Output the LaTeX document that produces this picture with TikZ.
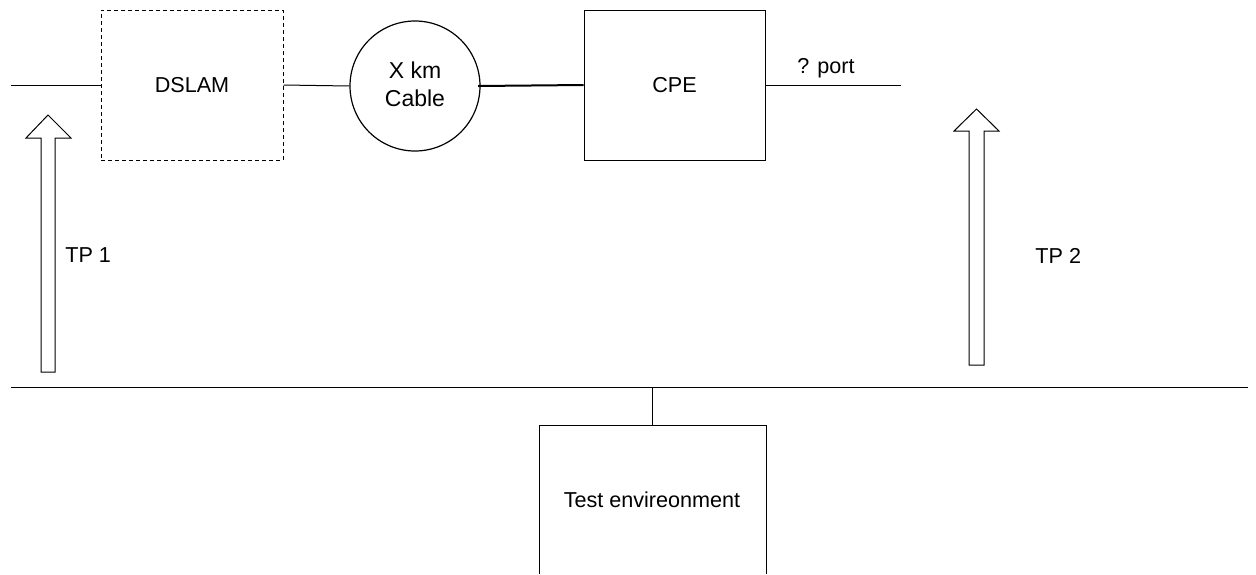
\documentclass[tikz,border=0pt]{standalone}
\usepackage{fontspec}
\setmainfont{Liberation Sans}
\begin{document}
\begin{tikzpicture}[x=0.5pt,y=-0.5pt,
  every node/.style={font=\fontsize{10.8}{14}\selectfont},
  ln/.style={draw, line width=0.5pt},
  blockbox/.style={draw, line width=0.5pt, minimum width=91pt, minimum height=75pt, inner sep=0pt},
  tparrow/.style={draw, line width=0.5pt, fill=white},
  lbl/.style={inner sep=0pt}]
\useasboundingbox (0,0) rectangle (1256,574);
% nodes
\node[blockbox, dashed, dash pattern=on 2pt off 1.5pt] (dslam) at (192,85) {DSLAM};
\node[draw, circle, line width=0.6pt, minimum size=65pt, inner sep=0pt] (circ) at (415,86) {};
\node[lbl, align=center, font=\fontsize{11.5}{14}\selectfont] (circtext) at (415,84) {X km\\Cable};
\node[blockbox, minimum width=90.5pt] (cpe) at (674.5,85) {CPE};
\node[lbl] (port) at (826,68) {? port};
\coordinate (inL) at (11,85);
\coordinate (portEnd) at (901,85);
\coordinate (busL) at (11,387);
\coordinate (busR) at (1248,387);
\coordinate (busT) at (652,387);
% test box (open at bottom)
\coordinate (tbTL) at (539,425);
\coordinate (tbTR) at (766,425);
\coordinate (tbBL) at (539,574);
\coordinate (tbBR) at (766,574);
\coordinate (tbTop) at (652,425);
\draw[ln] (tbBL) -- (tbTL) -- (tbTR) -- (tbBR);
\node[lbl] (test) at (652,500) {Test envireonment};
% connectors
\draw[ln] (inL) -- (dslam.west);
\draw[ln] (dslam.east) -- (circ.west);
\draw[draw, line width=1pt] (478,86) -- (cpe.west);
\draw[ln] (cpe.east) -- (portEnd);
\draw[ln] (busL) -- (busR);
\draw[ln] (busT) -- (tbTop);
% TP arrows
\draw[tparrow] (41,372) -- (41,138) -- (26,138) -- (48,115) -- (71,138) -- (55,138) -- (55,372) -- cycle;
\draw[tparrow] (969,365) -- (969,131) -- (954,131) -- (976.5,109) -- (999,131) -- (984,131) -- (984,365) -- cycle;
\node[lbl, anchor=west] (tp1) at (65,255) {TP 1};
\node[lbl, anchor=west] (tp2) at (1035,256) {TP 2};
\end{tikzpicture}
\end{document}
